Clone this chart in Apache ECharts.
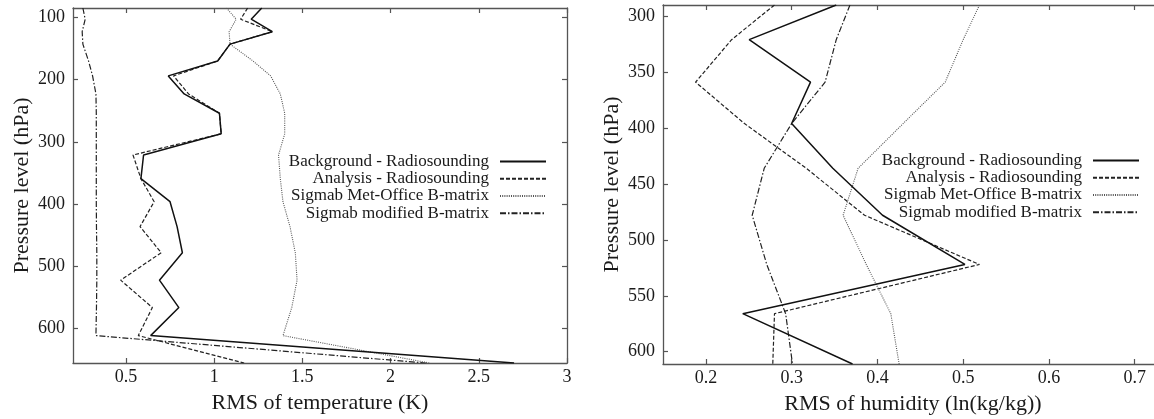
<!DOCTYPE html>
<html>
<head>
<meta charset="utf-8">
<script src="https://cdn.jsdelivr.net/npm/echarts@6/dist/echarts.min.js"></script>
<style>
  html, body { margin: 0; padding: 0; background: #fff; }
  #chart { width: 1154px; height: 419px; }
</style>
</head>
<body>
<div id="chart"></div>
<script>
// Pressure levels (hPa) for the temperature profiles
const levelsTemp = [85, 103, 123, 143, 170, 194, 223, 254, 287, 321, 359, 396, 436, 478, 522, 566, 611, 655];
// RMS of temperature (K)
const tempBackground = [1.27, 1.21, 1.33, 1.09, 1.02, 0.74, 0.83, 1.03, 1.04, 0.60, 0.585, 0.75, 0.79, 0.82, 0.69, 0.80, 0.64, 2.70];
const tempAnalysis   = [1.19, 1.15, 1.33, 1.09, 1.02, 0.77, 0.855, 1.03, 1.04, 0.54, 0.585, 0.66, 0.58, 0.70, 0.47, 0.65, 0.57, 1.17];
const tempMetOffice  = [1.07, 1.125, 1.085, 1.09, 1.22, 1.32, 1.375, 1.40, 1.40, 1.365, 1.375, 1.39, 1.43, 1.46, 1.47, 1.44, 1.39, 2.22];
const tempModified   = [0.256, 0.269, 0.252, 0.256, 0.288, 0.311, 0.33, 0.332, 0.332, 0.332, 0.332, 0.332, 0.333, 0.335, 0.335, 0.333, 0.33, 2.20];

// Pressure levels (hPa) for the humidity profiles
const levelsHum = [290, 321, 359, 396, 436, 478, 522, 566, 611];
// RMS of humidity (ln(kg/kg))
const humBackground = [0.352, 0.2505, 0.322, 0.300, 0.348, 0.406, 0.502, 0.243, 0.371];
const humAnalysis   = [0.280, 0.230, 0.188, 0.245, 0.317, 0.385, 0.519, 0.280, 0.278];
const humMetOffice  = [0.519, 0.500, 0.479, 0.430, 0.3775, 0.360, 0.387, 0.4156, 0.4253];
const humModified   = [0.368, 0.352, 0.339, 0.300, 0.268, 0.254, 0.271, 0.293, 0.301];

// Tick labels
const tempTicks = [0.5, 1, 1.5, 2, 2.5, 3];
const tempLevelTicks = [100, 200, 300, 400, 500, 600];
const humTicks = [0.2, 0.3, 0.4, 0.5, 0.6, 0.7];
const humLevelTicks = [300, 350, 400, 450, 500, 550, 600];

const seriesNames = [
  'Background - Radiosounding',
  'Analysis - Radiosounding',
  'Sigmab Met-Office B-matrix',
  'Sigmab modified B-matrix'
];

const FONT = '"Liberation Serif", "DejaVu Serif", serif';
const AXIS_COLOR = '#555';
const TEXT_COLOR = '#1a1a1a';

const lineStyles = [
  { color: '#111', width: 1.5, type: 'solid' },
  { color: '#222', width: 1.2, type: [4, 2] },
  { color: '#555', width: 1.1, type: [1, 1.2] },
  { color: '#222', width: 1.2, type: [6, 2, 1.5, 2] }
];

function pairs(values, levels) {
  return values.map((v, i) => [v, levels[i]]);
}

function xAxisPair(gridIndex, min, max, ticks, name) {
  const bottom = {
    type: 'value', gridIndex, min, max, position: 'bottom',
    splitLine: { show: false },
    axisLine: { show: true, lineStyle: { color: AXIS_COLOR, width: 1.3 } },
    axisTick: { show: true, inside: true, length: 5, customValues: ticks, lineStyle: { color: AXIS_COLOR, width: 1.2 } },
    axisLabel: { show: true, customValues: ticks, margin: 5, color: TEXT_COLOR, fontFamily: FONT, fontSize: 18,
                 formatter: v => String(v) },
    name, nameLocation: 'middle', nameGap: 29,
    nameTextStyle: { color: TEXT_COLOR, fontFamily: FONT, fontSize: 22 }
  };
  const top = {
    type: 'value', gridIndex, min, max, position: 'top',
    splitLine: { show: false },
    axisLine: { show: true, lineStyle: { color: AXIS_COLOR, width: 1.3 } },
    axisTick: { show: true, inside: true, length: 5, customValues: ticks, lineStyle: { color: AXIS_COLOR, width: 1.2 } },
    axisLabel: { show: false }
  };
  return [bottom, top];
}

function yAxisPair(gridIndex, min, max, ticks, name) {
  const left = {
    type: 'value', gridIndex, min, max, inverse: true, position: 'left',
    splitLine: { show: false },
    axisLine: { show: true, lineStyle: { color: AXIS_COLOR, width: 1.3 } },
    axisTick: { show: true, inside: true, length: 5, customValues: ticks, lineStyle: { color: AXIS_COLOR, width: 1.2 } },
    axisLabel: { show: true, customValues: ticks, margin: 8, color: TEXT_COLOR, fontFamily: FONT, fontSize: 18 },
    name, nameLocation: 'middle', nameGap: 40, nameRotate: 90,
    nameTextStyle: { color: TEXT_COLOR, fontFamily: FONT, fontSize: 22 }
  };
  const right = {
    type: 'value', gridIndex, min, max, inverse: true, position: 'right',
    splitLine: { show: false },
    axisLine: { show: true, lineStyle: { color: AXIS_COLOR, width: 1.3 } },
    axisTick: { show: true, inside: true, length: 5, customValues: ticks, lineStyle: { color: AXIS_COLOR, width: 1.2 } },
    axisLabel: { show: false }
  };
  return [left, right];
}

function profileSeries(valuesList, levels, xIdx, yIdx) {
  return valuesList.map((values, i) => ({
    type: 'line',
    name: seriesNames[i],
    xAxisIndex: xIdx,
    yAxisIndex: yIdx,
    data: pairs(values, levels),
    symbol: 'none',
    showSymbol: false,
    clip: true,
    silent: true,
    animation: false,
    lineStyle: lineStyles[i],
    itemStyle: { color: lineStyles[i].color },
    z: 10 - i
  }));
}

function legendAt(right, top) {
  return {
    data: seriesNames,
    orient: 'vertical',
    align: 'right',
    right, top,
    padding: 0,
    itemWidth: 46,
    itemHeight: 17.2,
    itemGap: 0,
    selectedMode: false,
    itemStyle: { opacity: 0 },
    textStyle: { color: TEXT_COLOR, fontFamily: FONT, fontSize: 17, lineHeight: 17.2, padding: [0, 6, 0, 0] }
  };
}

const chart = echarts.init(document.getElementById('chart'), null, { renderer: 'canvas' });

const option = {
  backgroundColor: '#fff',
  animation: false,
  grid: [
    { left: 73, top: 8, width: 494, height: 355, outerBoundsMode: 'none' },
    { left: 663, top: 5, width: 500, height: 359, outerBoundsMode: 'none' }
  ],
  xAxis: [
    ...xAxisPair(0, 0.2, 3, tempTicks, 'RMS of temperature (K)'),
    ...xAxisPair(1, 0.15, 0.733, humTicks, 'RMS of humidity (ln(kg/kg))')
  ],
  yAxis: [
    ...yAxisPair(0, 85, 655, tempLevelTicks, 'Pressure level (hPa)'),
    ...yAxisPair(1, 290, 611, humLevelTicks, 'Pressure level (hPa)')
  ],
  legend: [legendAt(607, 153), legendAt(14, 152)],
  series: [
    ...profileSeries([tempBackground, tempAnalysis, tempMetOffice, tempModified], levelsTemp, 0, 0),
    ...profileSeries([humBackground, humAnalysis, humMetOffice, humModified], levelsHum, 2, 2)
  ]
};

chart.setOption(option);
</script>
</body>
</html>
